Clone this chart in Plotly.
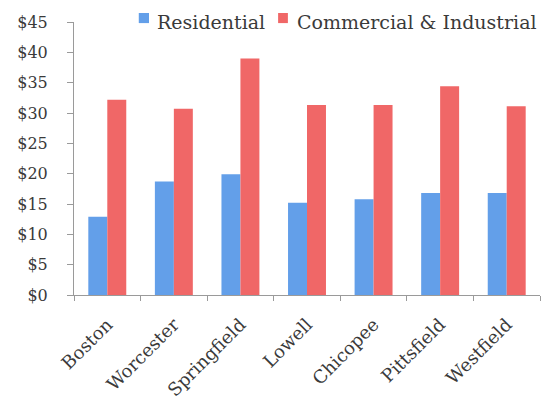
import plotly.graph_objects as go

cities = ["Boston", "Worcester", "Springfield", "Lowell", "Chicopee", "Pittsfield", "Westfield"]
residential = [12.9, 18.7, 19.9, 15.2, 15.8, 16.8, 16.8]
commercial = [32.2, 30.7, 39.0, 31.3, 31.3, 34.4, 31.1]
y_ticks = [0, 5, 10, 15, 20, 25, 30, 35, 40, 45]
y_tick_text = ["$" + str(v) for v in y_ticks]

series_names = ["Residential", "Commercial & Industrial"]
series_colors = ["#639fe9", "#f06767"]

font_family = "DejaVu Serif, Liberation Serif, serif"
text_color = "#3a3a3a"
axis_color = "#9a9a9a"

fig = go.Figure()
for name, values, color in zip(series_names, [residential, commercial], series_colors):
    fig.add_trace(go.Bar(
        name=name, x=cities, y=values,
        marker=dict(color=color, line=dict(width=0)),
        showlegend=False,
    ))

# Compact legend row above the plot: small square swatch followed by the series name
legend_items = [(0.139, 0.161, 0.174), (0.438, 0.459, 0.474)]
for (sx0, sx1, tx), name, color in zip(legend_items, series_names, series_colors):
    fig.add_shape(type="rect", xref="paper", yref="paper",
                  x0=sx0, x1=sx1, y0=0.996, y1=1.033,
                  fillcolor=color, line=dict(width=0))
    fig.add_annotation(text=name, xref="paper", yref="paper",
                       x=tx, y=1.0, xanchor="left", yanchor="middle",
                       showarrow=False,
                       font=dict(family=font_family, size=19, color=text_color))

fig.update_layout(
    width=546, height=404,
    margin=dict(l=74, r=6, t=22, b=109, autoexpand=False),
    paper_bgcolor="white", plot_bgcolor="white",
    barmode="group", bargap=0.43, bargroupgap=0.0,
    font=dict(family=font_family, size=18, color=text_color),
)
fig.update_xaxes(
    showline=True, linecolor=axis_color, linewidth=1,
    ticks="outside", ticklen=5, tickcolor=axis_color, tickson="boundaries",
    tickangle=-45, ticklabelstandoff=11, automargin=False,
    tickfont=dict(size=18, family=font_family, color=text_color),
    showgrid=False,
)
fig.update_yaxes(
    range=[0, 45], tickvals=y_ticks, ticktext=y_tick_text,
    showline=True, linecolor=axis_color, linewidth=1,
    ticks="outside", ticklen=6, tickcolor=axis_color, ticklabelstandoff=16,
    automargin=False,
    tickfont=dict(size=16, family=font_family, color=text_color),
    showgrid=False, zeroline=False,
)

fig.write_html("out.html")
